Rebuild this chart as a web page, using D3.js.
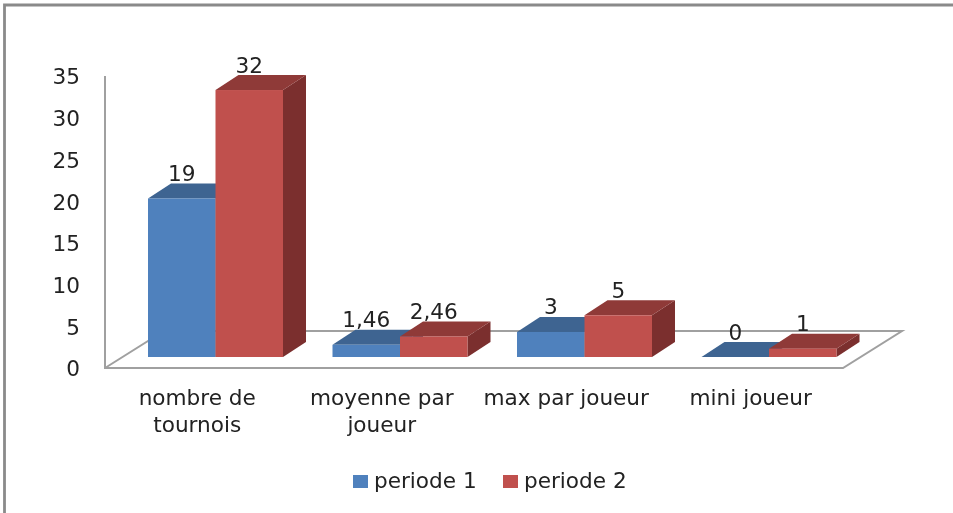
<!DOCTYPE html>
<html><head><meta charset="utf-8">
<script src="https://cdnjs.cloudflare.com/ajax/libs/d3/7.8.5/d3.min.js"></script>
<style>html,body{margin:0;padding:0;background:#fff;overflow:hidden}svg{display:block;filter:blur(.5px)}text{font-family:"DejaVu Sans",sans-serif;fill:#222}</style>
</head><body><svg id="c" width="953" height="513"></svg>
<script>
const categories=[["nombre de","tournois"],["moyenne par","joueur"],["max par joueur"],["mini joueur"]];
const seriesNames=["periode 1","periode 2"];
const periode1=[19,1.46,3,0];
const periode2=[32,2.46,5,1];
const valueLabels1=["19","1,46","3","0"];
const valueLabels2=["32","2,46","5","1"];
const yTicks=[0,5,10,15,20,25,30,35];
const seriesColors=[{front:"#4F81BD",top:"#3E6491",side:"#345478"},{front:"#C0504D",top:"#8F3A38",side:"#7B2F2E"}];
const axisColor="#A0A0A0", borderColor="#8A8A8A";

const svg=d3.select("#c");
const y=d3.scaleLinear().domain([0,35]).range([368,76]);
const x=d3.scaleBand().domain(d3.range(categories.length)).range([105,843]).padding(0);
const sub=d3.scaleBand().domain([0,1]).range([0,135]).padding(0);
const depth={dx:23,dy:-15};
const wall={dx:59,dy:-37};
const barLift=11, barShift=43;
const fontSize=21.6;
const pts=a=>a.map(p=>p.join(",")).join(" ");

// chart frame
svg.append("path").attr("d",`M4.5,513V5H953`).attr("fill","none").attr("stroke",borderColor).attr("stroke-width",2.8);

// 3D floor and axis
const x0=x.range()[0],x1=x.range()[1],y0=y(0);
svg.append("polyline").attr("fill","none").attr("stroke",axisColor).attr("stroke-width",2)
  .attr("points",pts([[x0,y(35)],[x0,y0],[x1,y0],[x1+wall.dx,y0+wall.dy],[x0+wall.dx,y0+wall.dy],[x0,y0]]));

// y axis labels through d3 axis
const yAxis=d3.axisLeft(y).tickValues(yTicks).tickSize(0).tickPadding(25);
const gy=svg.append("g").attr("transform",`translate(${x0},1)`).call(yAxis);
gy.select(".domain").remove();
gy.selectAll("text").style("font-size",fontSize+"px").style("font-family",'"DejaVu Sans",sans-serif').attr("fill","#222");

// bars
[periode1,periode2].forEach((vals,s)=>{
  const col=seriesColors[s];
  const g=svg.append("g").selectAll("g").data(vals).join("g");
  const L=(d,i)=>x(i)+barShift+sub(s), R=(d,i)=>L(d,i)+sub.bandwidth();
  const B=()=>y(0)-barLift, T=d=>y(d)-barLift;
  g.append("polygon").attr("fill",col.side).attr("points",(d,i)=>pts([[R(d,i),T(d)],[R(d,i)+depth.dx,T(d)+depth.dy],[R(d,i)+depth.dx,B()+depth.dy],[R(d,i),B()]]));
  g.append("polygon").attr("fill",col.top).attr("points",(d,i)=>pts([[L(d,i),T(d)],[L(d,i)+depth.dx,T(d)+depth.dy],[R(d,i)+depth.dx,T(d)+depth.dy],[R(d,i),T(d)]]));
  g.append("rect").attr("fill",col.front).attr("x",(d,i)=>L(d,i)).attr("y",T).attr("width",sub.bandwidth()).attr("height",d=>B()-T(d));
});
// value labels above everything
[[periode1,valueLabels1],[periode2,valueLabels2]].forEach(([vals,labs],s)=>{
  svg.append("g").selectAll("text").data(vals).join("text")
    .attr("x",(d,i)=>x(i)+barShift+sub(s)+sub.bandwidth()/2)
    .attr("y",d=>y(d)-barLift+depth.dy-2.5)
    .attr("text-anchor","middle").style("font-size",fontSize+"px")
    .text((d,i)=>labs[i]);
});

// category labels
const cats=svg.append("g").selectAll("text").data(categories).join("text")
  .attr("text-anchor","middle").style("font-size",fontSize+"px");
cats.each(function(lines,i){
  d3.select(this).selectAll("tspan").data(lines).join("tspan")
    .attr("x",x(i)+x.bandwidth()/2).attr("y",(l,j)=>405+j*27).text(l=>l);
});

// legend
const legX=d3.scaleOrdinal().domain([0,1]).range([353,503]);
const leg=svg.append("g").selectAll("g").data(seriesNames).join("g").attr("transform",(d,i)=>`translate(${legX(i)},475)`);
leg.append("rect").attr("width",15).attr("height",13).attr("fill",(d,i)=>seriesColors[i].front);
leg.append("text").attr("x",21).attr("y",13).style("font-size",fontSize+"px").text(d=>d);
</script></body></html>
